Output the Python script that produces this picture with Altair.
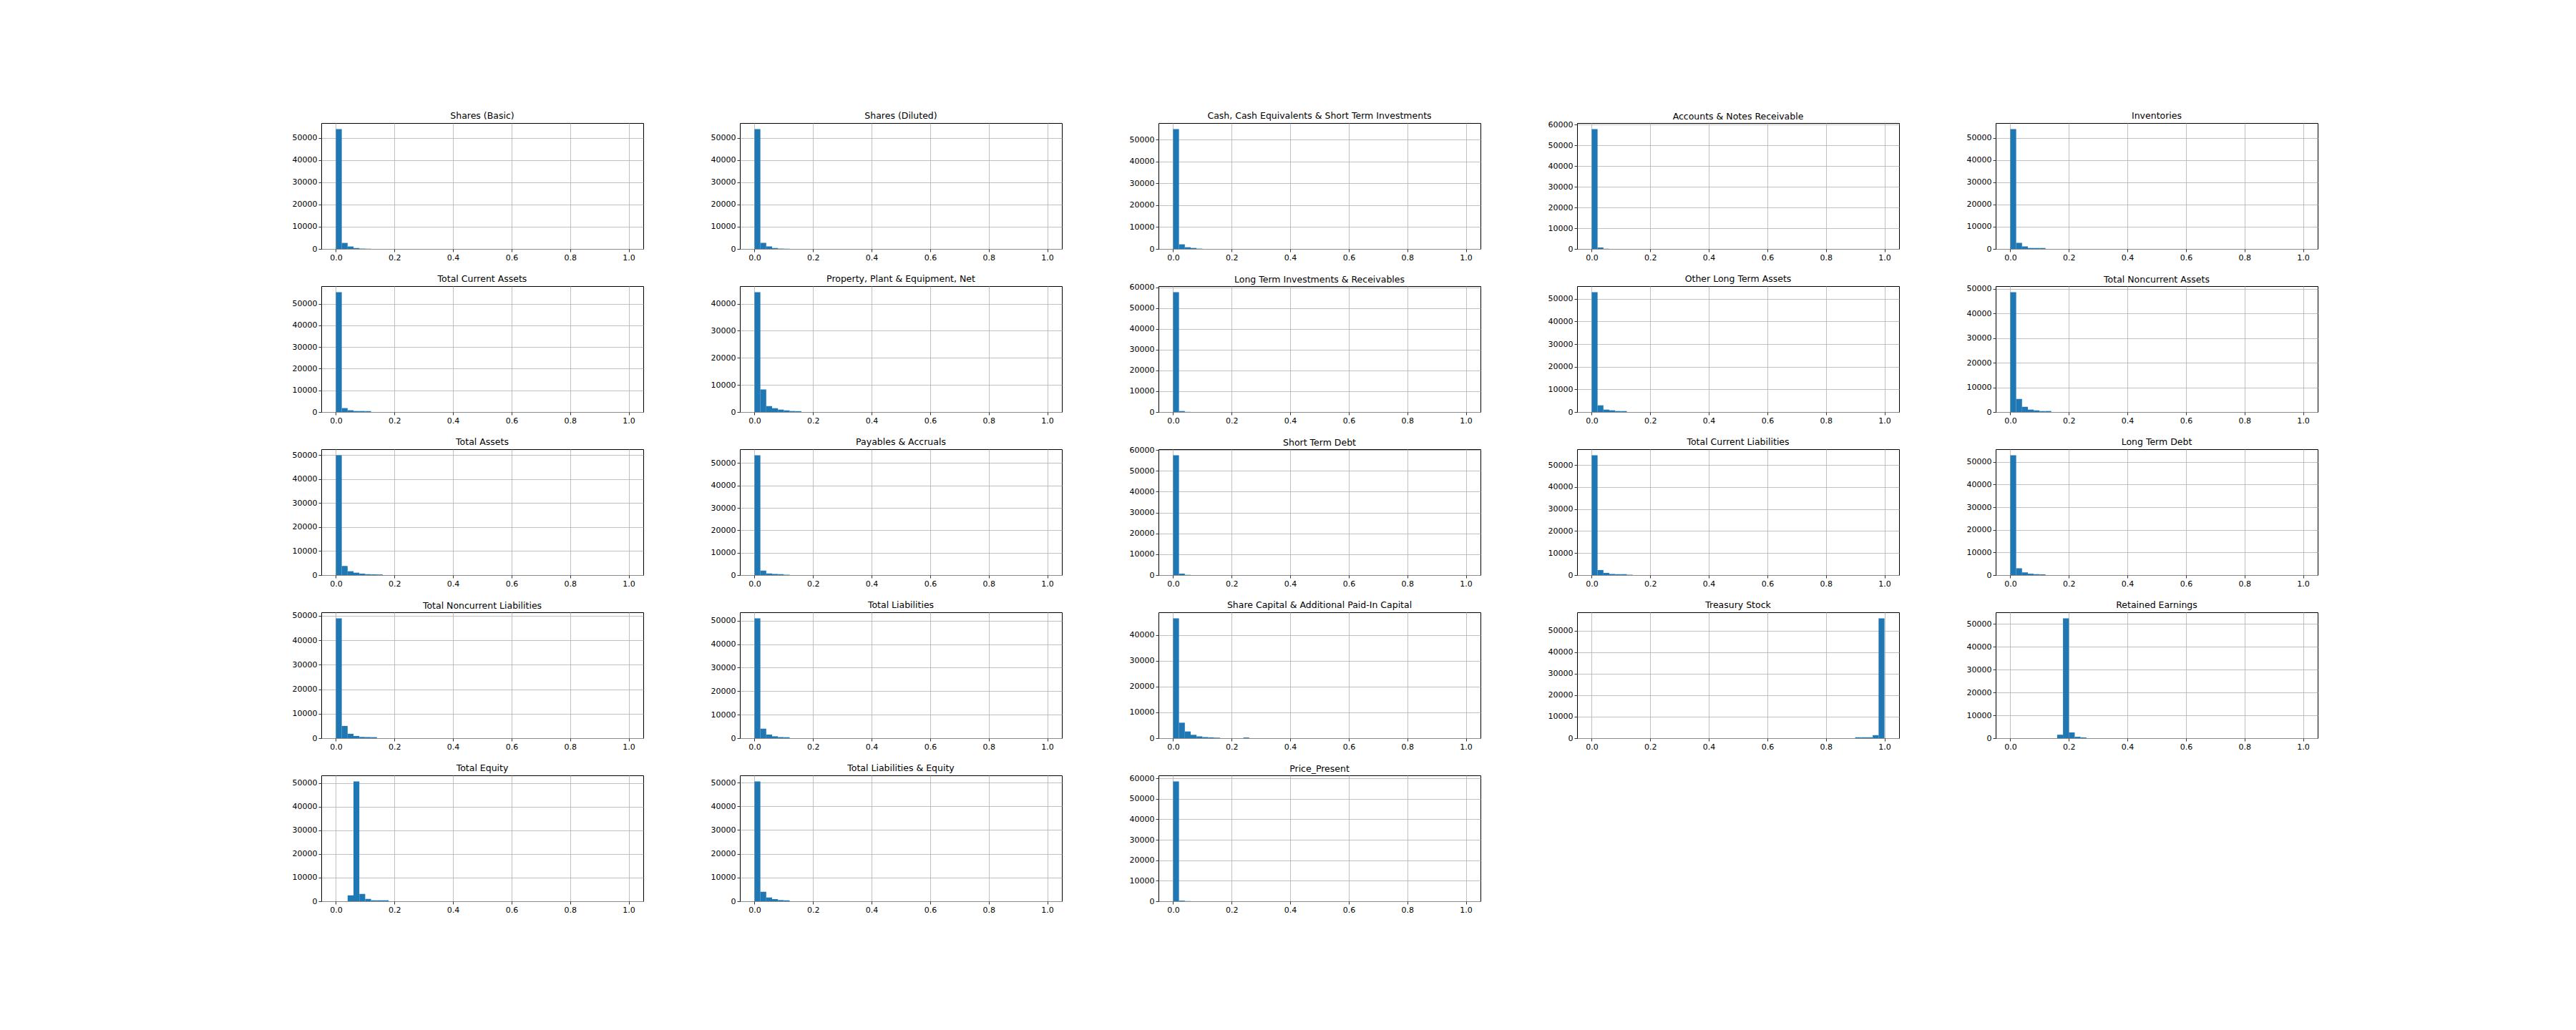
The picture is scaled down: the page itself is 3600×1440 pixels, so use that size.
import altair as alt
import pandas as pd

# ---- data (histogram counts, 50 bins of width 0.02 on [0, 1]) ----
titles = [
    "Shares (Basic)", "Shares (Diluted)", "Cash, Cash Equivalents & Short Term Investments",
    "Accounts & Notes Receivable", "Inventories",
    "Total Current Assets", "Property, Plant & Equipment, Net", "Long Term Investments & Receivables",
    "Other Long Term Assets", "Total Noncurrent Assets",
    "Total Assets", "Payables & Accruals", "Short Term Debt", "Total Current Liabilities", "Long Term Debt",
    "Total Noncurrent Liabilities", "Total Liabilities", "Share Capital & Additional Paid-In Capital",
    "Treasury Stock", "Retained Earnings",
    "Total Equity", "Total Liabilities & Equity", "Price_Present",
]

# first non-empty bin index for each panel
start_bins = [0, 0, 0, 0, 0,
              0, 0, 0, 0, 0,
              0, 0, 0, 0, 0,
              0, 0, 0, 45, 8,
              2, 0, 0]

shares_basic = [54000, 2700, 1100, 400, 150, 60]
shares_diluted = [54000, 2700, 1100, 400, 150, 60]
cash = [54900, 2100, 770, 440, 120]
receivables = [57900, 700, 80]
inventories = [54000, 2700, 1100, 420, 420, 400]
total_current_assets = [55400, 1800, 800, 450, 450, 440]
ppe = [44300, 8300, 2200, 1400, 880, 620, 350, 300]
lt_investments = [57700, 460, 60]
other_lt_assets = [53000, 2950, 1050, 740, 420, 420]
total_noncurrent_assets = [48600, 5300, 2100, 970, 680, 390, 390]
total_assets = [50000, 3800, 1600, 1000, 600, 400, 300, 250]
payables = [53500, 2000, 700, 500, 400, 150]
short_term_debt = [57500, 700, 100]
total_current_liabilities = [54500, 2300, 1000, 500, 400, 400, 150]
long_term_debt = [53000, 3000, 1200, 600, 400, 300]
total_noncurrent_liabilities = [49000, 5000, 1800, 900, 500, 450, 400]
total_liabilities = [51000, 4000, 1500, 800, 450, 400]
share_capital = [46500, 6000, 2600, 1300, 700, 400, 300, 200, 0, 0, 0, 0, 250]
treasury_stock = [400, 400, 400, 1400, 55800]
retained_earnings = [1500, 52500, 2500, 600, 300]
total_equity = [2500, 50700, 3100, 1000, 400, 400, 400]
total_liab_equity = [50500, 4000, 1600, 900, 500, 400]
price_present = [58500, 300, 80]

series = [
    shares_basic, shares_diluted, cash, receivables, inventories,
    total_current_assets, ppe, lt_investments, other_lt_assets, total_noncurrent_assets,
    total_assets, payables, short_term_debt, total_current_liabilities, long_term_debt,
    total_noncurrent_liabilities, total_liabilities, share_capital, treasury_stock, retained_earnings,
    total_equity, total_liab_equity, price_present,
]

x_ticks = [0.0, 0.2, 0.4, 0.6, 0.8, 1.0]
BIN = 0.02
BAR = "#1f77b4"

PANEL_W = 450
PANEL_H = 176
LABEL_SIZE = 11


def panel(title, start, counts):
    rows = []
    for i, c in enumerate(counts):
        if c <= 0:
            continue
        b = start + i
        rows.append({"x0": round(b * BIN, 4), "x1": round((b + 1) * BIN, 4), "count": c, "base": 0})
    df = pd.DataFrame(rows)
    ymax = max(counts) * 1.05
    y_ticks = list(range(0, int(ymax) + 1, 10000))
    # keep title at the same distance from the frame even when the top tick label pokes above it
    top_gap = (ymax - y_ticks[-1]) / ymax * PANEL_H
    dy = max(0.0, LABEL_SIZE * 0.65 - top_gap)
    return (
        alt.Chart(df)
        .mark_rect(color=BAR, strokeWidth=0)
        .encode(
            x=alt.X("x0:Q",
                    scale=alt.Scale(domain=[-0.05, 1.05], nice=False, zero=False),
                    axis=alt.Axis(values=x_ticks, format=".1f", title=None)),
            x2="x1:Q",
            y=alt.Y("count:Q",
                    scale=alt.Scale(domain=[0, ymax], nice=False),
                    axis=alt.Axis(values=y_ticks, format="d", title=None)),
            y2="base:Q",
        )
        .properties(width=PANEL_W, height=PANEL_H,
                    title=alt.TitleParams(title, anchor="middle", dy=round(dy, 2)))
    )


charts = [panel(t, s, c) for t, s, c in zip(titles, start_bins, series)]

chart = (
    alt.concat(*charts, columns=5, bounds="flush", spacing={"row": 52, "column": 135})
    .properties(padding={"left": 407, "top": 155, "right": 10, "bottom": 10})
    .configure(font="DejaVu Sans", background="white")
    .configure_view(stroke="#000000", strokeWidth=1)
    .configure_axis(
        grid=True, gridColor="#b0b0b0", gridWidth=0.8, gridOpacity=1,
        domain=False, ticks=True, tickColor="#000000", tickSize=4, tickWidth=0.8,
        labelFont="DejaVu Sans", labelFontSize=LABEL_SIZE, labelColor="#000000", labelPadding=2,
        zindex=1,
    )
    .configure_axisY(labelFlush=False)
    .configure_axisX(labelFlush=False)
    .configure_title(font="DejaVu Sans", fontSize=12.5, fontWeight="normal", color="#000000",
                     offset=4, baseline="alphabetic")
)

chart.save("out.html", embed_options={"renderer": "svg", "actions": False})
